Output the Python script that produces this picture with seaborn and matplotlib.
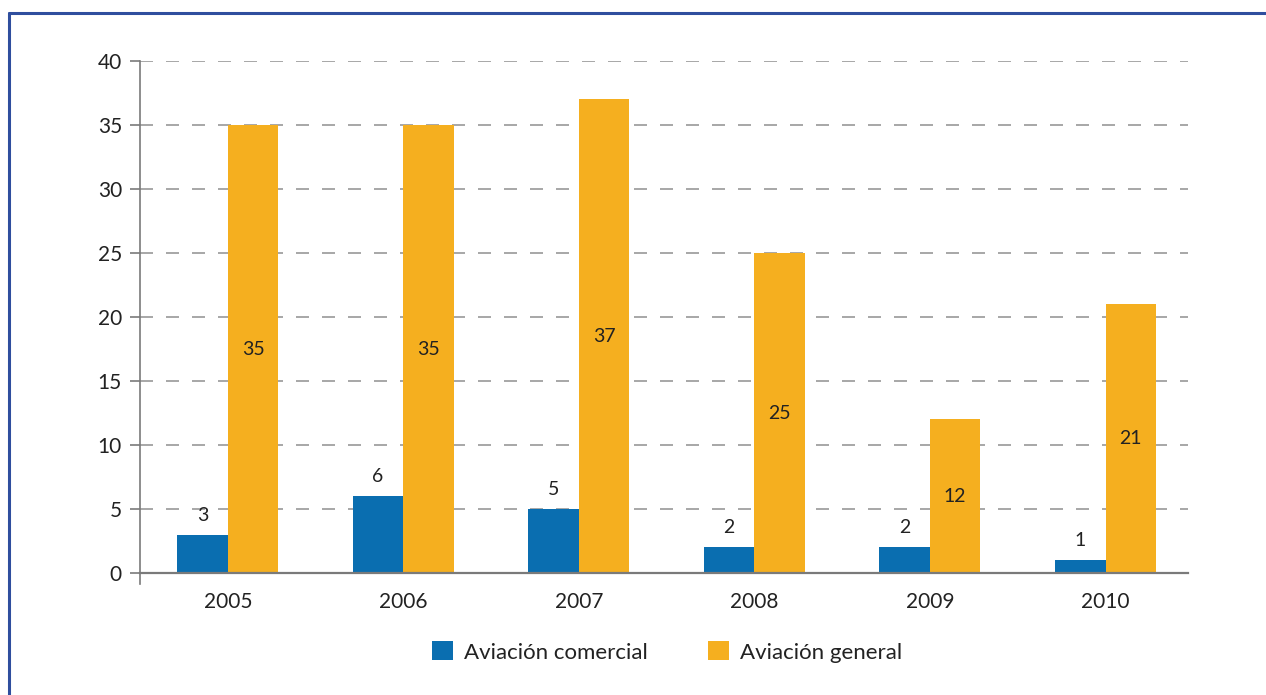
import pandas as pd
import matplotlib.pyplot as plt
import seaborn as sns
from matplotlib.patches import Patch
from matplotlib.lines import Line2D

# data
years = ['2005', '2006', '2007', '2008', '2009', '2010']
comercial = [3, 6, 5, 2, 2, 1]
general = [35, 35, 37, 25, 12, 21]
series_names = ['Aviación comercial', 'Aviación general']
y_ticks = [0, 5, 10, 15, 20, 25, 30, 35, 40]

blue = '#0A6EB0'
orange = '#F5AF1F'
text_col = '#222222'

df = pd.DataFrame({
    'year': years * 2,
    'value': comercial + general,
    'serie': [series_names[0]] * len(years) + [series_names[1]] * len(years),
})

sns.set_style('white')
plt.rcParams['font.family'] = ['Lato', 'DejaVu Sans']

fig = plt.figure(figsize=(12.66, 6.95), dpi=100)
ax = fig.add_axes([0.1106, 0.1755, 0.8278, 0.7367])

sns.barplot(data=df, x='year', y='value', hue='serie', order=years,
            hue_order=series_names, palette=[blue, orange], width=0.575,
            saturation=1, linewidth=0, legend=False, ax=ax)

ax.set_xlim(-0.5, 5.47)
ax.set_ylim(0, 40)
ax.set_yticks(y_ticks)
ax.set_xlabel('')
ax.set_ylabel('')

# dashed grid
for y in y_ticks[1:]:
    ax.axhline(y, color='#a0a0a0', lw=1.3, ls=(0, (7.2, 7.2)), zorder=0)

for s in ['top', 'right']:
    ax.spines[s].set_visible(False)
ax.spines['left'].set_color('#7a7a7a')
ax.spines['bottom'].set_color('#7a7a7a')
ax.spines['left'].set_linewidth(1.2)
ax.spines['bottom'].set_linewidth(1.6)
ax.spines['left'].set_bounds(-0.85, 40)

ax.tick_params(axis='y', length=7, width=1.2, color='#7a7a7a',
               labelsize=15, labelcolor=text_col, pad=6, left=True)
ax.tick_params(axis='x', length=0, labelsize=15, labelcolor=text_col, pad=14)

# value labels
blue_bars = ax.containers[0]
orange_bars = ax.containers[1]
ax.bar_label(blue_bars, labels=[str(v) for v in comercial], padding=8,
             fontsize=14, color=text_col)
for bar, v in zip(orange_bars, general):
    ax.text(bar.get_x() + bar.get_width() / 2, v / 2, str(v),
            ha='center', va='center', fontsize=14, color=text_col)

handles = [Patch(facecolor=blue, edgecolor='none'),
           Patch(facecolor=orange, edgecolor='none')]
fig.legend(handles, series_names, loc='center', bbox_to_anchor=(0.527, 0.062),
           ncol=2, frameon=False, fontsize=16, handlelength=0.95,
           handleheight=0.95, handletextpad=0.5, columnspacing=2.7,
           labelcolor=text_col)

# navy frame on left and top edges
fig.add_artist(Line2D([0.0075, 0.0075], [0, 0.981], color='#2F4E9E', lw=2.2,
                      transform=fig.transFigure))
fig.add_artist(Line2D([0.0075, 1.0], [0.981, 0.981], color='#2F4E9E', lw=2.2,
                      transform=fig.transFigure))

fig.savefig('out.png', dpi=100)
